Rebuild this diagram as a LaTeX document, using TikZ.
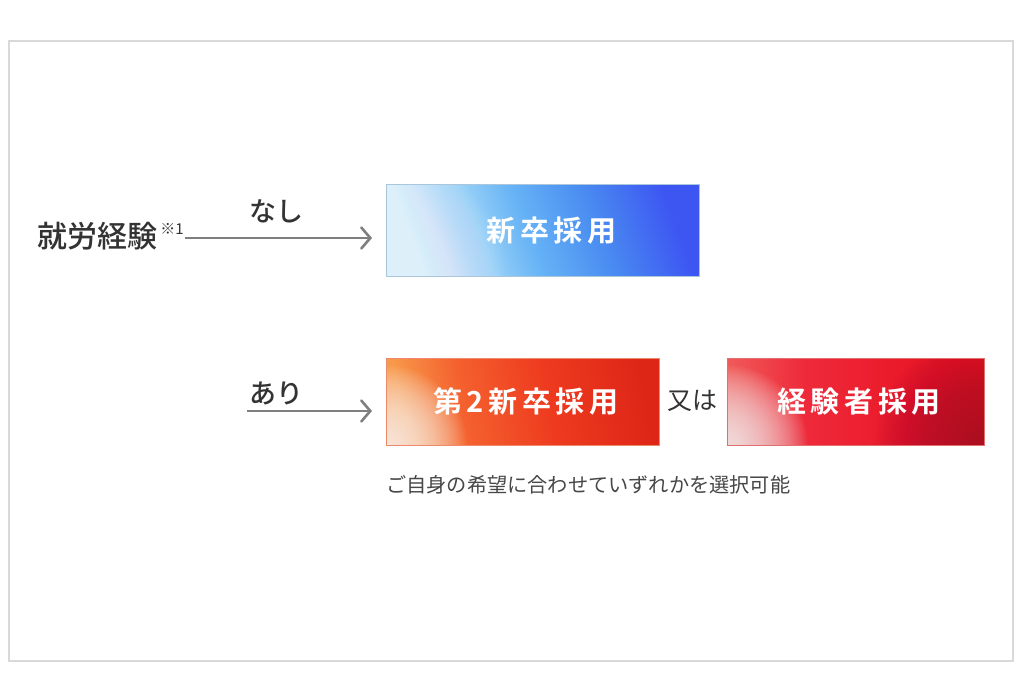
\documentclass[tikz,border=0pt]{standalone}
\usepackage{fontspec}
\setmainfont{Noto Sans CJK JP}
\newfontfamily\boxfont[LetterSpace=16]{Noto Sans CJK JP Bold}
\newfontfamily\medfont{Noto Sans CJK JP Medium}
\usetikzlibrary{arrows.meta,shadings}

\definecolor{framegray}{HTML}{D9D9D9}
\definecolor{arrowgray}{HTML}{7F7F7F}
\definecolor{labelgray}{HTML}{333333}
\definecolor{notegray}{HTML}{474747}
% blue
\definecolor{bA}{HTML}{DDF0FA}
\definecolor{bB}{HTML}{A2D6F7}
\definecolor{bC}{HTML}{66B3F6}
\definecolor{bD}{HTML}{4A8CF1}
\definecolor{bE}{HTML}{3D56F2}
\definecolor{bborder}{HTML}{A9C6DC}
% orange
\definecolor{oA}{HTML}{F7994A}
\definecolor{oB}{HTML}{F4602E}
\definecolor{oC}{HTML}{EE3B1F}
\definecolor{oD}{HTML}{DE2617}
\definecolor{oborder}{HTML}{EE8A6C}
% red
\definecolor{rA}{HTML}{F05A58}
\definecolor{rB}{HTML}{EE2A3A}
\definecolor{rC}{HTML}{EA1A2A}
\definecolor{rD}{HTML}{E8141E}
\definecolor{rdark}{HTML}{A00E2E}
\definecolor{rborder}{HTML}{E07070}

\pgfdeclarehorizontalshading{blueshade}{100bp}{color(0bp)=(bA); color(25bp)=(bA); color(36bp)=(bB); color(47bp)=(bC); color(60bp)=(bD); color(75bp)=(bE); color(100bp)=(bE)}
\pgfdeclarehorizontalshading{orangeshade}{100bp}{color(0bp)=(oA); color(25bp)=(oA); color(38bp)=(oB); color(55bp)=(oC); color(75bp)=(oD); color(100bp)=(oD)}
\pgfdeclarehorizontalshading{redshade}{100bp}{color(0bp)=(rA); color(25bp)=(rA); color(40bp)=(rB); color(58bp)=(rC); color(75bp)=(rD); color(100bp)=(rD)}

% soft glow made of many faint discs
\newcommand{\softglow}[4]{% color, center, radius, per-step opacity
  \foreach \k in {1,...,40}{
    \fill[#1, opacity=#4] #2 circle ({#3*\k/40});
  }}

\tikzset{
  cbox/.style={rectangle, inner sep=0pt, anchor=north west, text=white,
    font=\boxfont\fontsize{29pt}{34pt}\selectfont, line width=0.8pt},
  bluebox/.style={cbox, draw=bborder, shading=blueshade, shading angle=20,
    path picture={\softglow{white}{(path picture bounding box.south west)}{120}{0.025}}},
  orangebox/.style={cbox, draw=oborder, shading=orangeshade, shading angle=10,
    path picture={\softglow{white}{(path picture bounding box.south west)}{80}{0.045}}},
  redbox/.style={cbox, draw=rborder, shading=redshade, shading angle=0,
    path picture={\softglow{rdark}{(path picture bounding box.south east)}{110}{0.03}
                  \softglow{white}{(path picture bounding box.south west)}{80}{0.045}}},
  lbl/.style={text=labelgray, inner sep=0pt},
  arr/.style={draw=arrowgray, line width=2.6pt, shorten >=14pt,
    -{Straight Barb[length=9pt,width=21pt,line cap=round]}},
}

\begin{document}
\begin{tikzpicture}[x=1pt,y=-1pt]
\useasboundingbox (0,0) rectangle (1024,683);
\fill[white] (0,0) rectangle (1024,683);
\draw[framegray, line width=1.5pt] (9,41) rectangle (1013,661);

% boxes
\node[bluebox, minimum width=313pt, minimum height=92pt] (shin) at (386,184) {\hspace*{17pt}新卒採用};
\node[orangebox, minimum width=273pt, minimum height=87pt] (dai2) at (386,358) {\hspace*{6pt}第2新卒採用};
\node[redbox, minimum width=257pt, minimum height=87pt] (keikensha) at (727,358) {\hspace*{6pt}経験者採用};

% labels
\node[lbl, anchor=west, font=\medfont\fontsize{30pt}{34pt}\selectfont] (keiken) at (37,236) {就労経験};
\node[lbl, font=\fontsize{15pt}{16pt}\selectfont] (sup) at (172,229) {※1};
\node[lbl, font=\medfont\fontsize{27pt}{30pt}\selectfont] (nashi) at (276,211) {なし};
\node[lbl, font=\medfont\fontsize{27pt}{30pt}\selectfont] (ari) at (276,393) {あり};
\node[lbl, font=\fontsize{25pt}{30pt}\selectfont] (mataha) at (692,401) {又は};
\node[text=notegray, inner sep=0pt, anchor=west, font=\fontsize{20.2pt}{23pt}\selectfont] (note) at (386,485) {ご自身の希望に合わせていずれかを選択可能};

% arrows
\coordinate (a1s) at (185,238);
\coordinate (a2s) at (247,411);
\draw[arr] (a1s) -- (a1s -| shin.west);
\draw[arr] (a2s) -- (a2s -| dai2.west);
\end{tikzpicture}
\end{document}
